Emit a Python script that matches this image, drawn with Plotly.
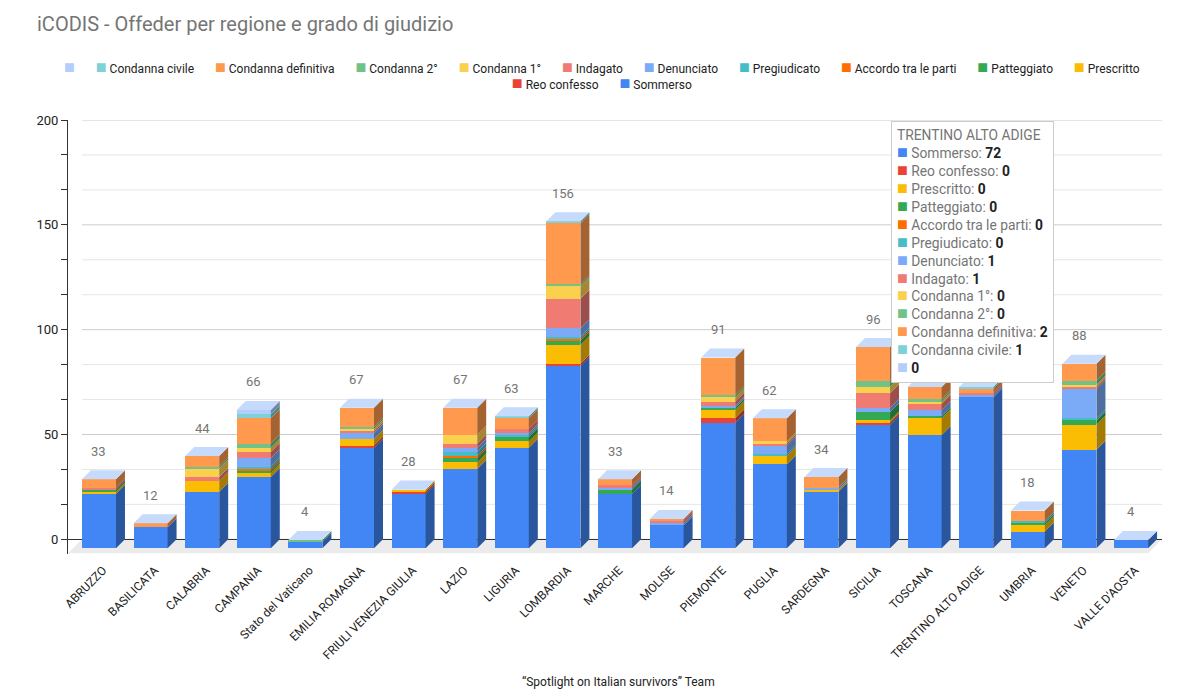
import plotly.graph_objects as go

# --- data ---
regioni = ["ABRUZZO", "BASILICATA", "CALABRIA", "CAMPANIA", "Stato del Vaticano",
           "EMILIA ROMAGNA", "FRIULI VENEZIA GIULIA", "LAZIO", "LIGURIA", "LOMBARDIA",
           "MARCHE", "MOLISE", "PIEMONTE", "PUGLIA", "SARDEGNA", "SICILIA", "TOSCANA",
           "TRENTINO ALTO ADIGE", "UMBRIA", "VENETO", "VALLE D'AOSTA"]

sommerso     = [26, 10, 27, 34, 3, 48, 26, 38, 48, 87, 26, 11, 60, 40, 27, 59, 54, 72, 8, 47, 4]
reo_confesso = [0, 0, 0, 0, 0, 1, 1, 0, 0, 1, 0, 0, 2, 0, 0, 1, 0, 0, 0, 0, 0]
prescritto   = [1, 0, 5, 2, 0, 3, 1, 3, 3, 9, 0, 0, 4, 4, 1, 1, 8, 0, 3, 12, 0]
patteggiato  = [1, 0, 0, 1, 0, 0, 0, 2, 2, 2, 2, 0, 1, 0, 0, 4, 1, 0, 1, 2, 0]
accordo      = [0, 0, 0, 1, 0, 0, 0, 1, 0, 1, 0, 0, 0, 0, 0, 0, 0, 0, 0, 0, 0]
pregiudicato = [0, 0, 0, 1, 0, 0, 0, 2, 1, 1, 0, 0, 0, 1, 0, 0, 0, 0, 1, 1, 0]
denunciato   = [0, 0, 0, 4, 0, 3, 0, 2, 1, 4, 1, 1, 1, 4, 1, 2, 3, 1, 0, 14, 0]
indagato     = [1, 0, 2, 3, 0, 1, 0, 2, 2, 14, 1, 1, 2, 1, 0, 7, 3, 1, 0, 1, 0]
condanna_1   = [0, 0, 4, 2, 0, 1, 0, 4, 0, 6, 0, 0, 2, 1, 0, 3, 1, 0, 0, 1, 0]
condanna_2   = [0, 0, 1, 2, 1, 1, 0, 0, 0, 1, 0, 0, 1, 0, 0, 3, 1, 0, 0, 2, 0]
condanna_def = [4, 2, 5, 12, 0, 9, 0, 13, 5, 29, 3, 1, 18, 11, 5, 16, 6, 2, 5, 8, 0]
condanna_civ = [0, 0, 0, 2, 0, 0, 0, 0, 1, 1, 0, 0, 0, 0, 0, 0, 0, 1, 0, 0, 0]
senza_nome   = [0, 0, 0, 2, 0, 0, 0, 0, 0, 0, 0, 0, 0, 0, 0, 0, 0, 0, 0, 0, 0]

nomi = ["Sommerso", "Reo confesso", "Prescritto", "Patteggiato", "Accordo tra le parti",
        "Pregiudicato", "Denunciato", "Indagato", "Condanna 1°", "Condanna 2°",
        "Condanna definitiva", "Condanna civile", ""]
serie = [sommerso, reo_confesso, prescritto, patteggiato, accordo, pregiudicato,
         denunciato, indagato, condanna_1, condanna_2, condanna_def, condanna_civ, senza_nome]
colori = ["#4285f4", "#ea4335", "#fbbc04", "#34a853", "#ff6d01", "#46bdc6", "#7baaf7",
          "#f07b72", "#fcd04f", "#71c287", "#ff994d", "#7ed1d7", "#b3cefb"]

tooltip_regione = "TRENTINO ALTO ADIGE"
# totals hidden under the tooltip in the original
coperti = ["TOSCANA", "TRENTINO ALTO ADIGE"]

# --- 3d look ---
W_BAR = 0.66   # front face width (category units)
DX = 0.174     # depth, x
DY = 4.3       # depth, y (value units)
FONT = "Roboto, Arial, sans-serif"


def scuro(hexcol, f=0.65):
    h = hexcol.lstrip("#")
    r, g, b = (int(h[k:k + 2], 16) for k in (0, 2, 4))
    return "rgb(%d,%d,%d)" % (r * f, g * f, b * f)


xs = list(range(len(regioni)))
totali = [sum(s[i] for s in serie) for i in xs]

fig = go.Figure()

# back-wall gridlines (start behind the floor corner like the original)
for k in range(13):
    yv = k * 50 / 3
    fig.add_shape(type="line", xref="x", yref="y", layer="below",
                  x0=-0.33, x1=20.6, y0=yv, y1=yv,
                  line=dict(color="#cccccc" if k % 3 == 0 else "#e6e6e6", width=1))

base = [-DY] * len(xs)
for nome, vals, col in zip(nomi, serie, colori):
    fig.add_trace(go.Bar(x=xs, y=vals, base=list(base), width=W_BAR,
                         marker=dict(color=col, line=dict(width=0)),
                         name=nome, showlegend=False, hoverinfo="skip"))
    px, py = [], []
    for i in xs:
        if vals[i] > 0:
            xr = i + W_BAR / 2
            b, t = base[i], base[i] + vals[i]
            px += [xr, xr + DX, xr + DX, xr, None]
            py += [b, b + DY, t + DY, t, None]
    if px:
        fig.add_trace(go.Scatter(x=px, y=py, mode="lines", fill="toself",
                                 fillcolor=scuro(col), line=dict(width=0),
                                 showlegend=False, hoverinfo="skip"))
    base = [base[i] + vals[i] for i in xs]

# top faces
tx, ty = [], []
for i in xs:
    xl, xr, T = i - W_BAR / 2, i + W_BAR / 2, base[i]
    tx += [xl, xl + DX, xr + DX, xr, None]
    ty += [T, T + DY, T + DY, T, None]
fig.add_trace(go.Scatter(x=tx, y=ty, mode="lines", fill="toself", fillcolor="#c6dafc",
                         line=dict(width=0), showlegend=False, hoverinfo="skip"))

# totals above bars
for i in xs:
    if regioni[i] in coperti:
        continue
    fig.add_annotation(x=i, y=totali[i], text=str(totali[i]), showarrow=False,
                       yshift=19, yanchor="middle",
                       font=dict(size=13, color="#757575", family=FONT))

# floor
fig.add_shape(type="path", xref="x", yref="y", layer="below",
              path="M -0.6,-6.7 L -0.33,0 L 20.6,0 L 20.33,-6.7 Z",
              fillcolor="#ebebeb", line=dict(width=0))

# legend (two centred rows, like the original)
def voce(k):
    sw = "<span style='color:%s;font-size:18px'>■</span>" % colori[k]
    return sw + ("&nbsp;" + nomi[k] if nomi[k] else "")

sep = "&nbsp;" * 7
riga1 = sep.join(voce(k) for k in range(12, 1, -1))
riga2 = sep.join(voce(k) for k in (1, 0))
fig.add_annotation(xref="paper", yref="paper", x=0.488, y=1.1037, text=riga1 + "<br>" + riga2,
                   showarrow=False, xanchor="center", yanchor="middle", align="center",
                   font=dict(size=12, color="#222222", family=FONT))

# tooltip box
j = regioni.index(tooltip_regione)
righe = [tooltip_regione]
for k in range(len(nomi)):
    sw = "<span style='color:%s;font-size:18px'>■</span>" % colori[k]
    val = "<b><span style='color:#222222'>%d</span></b>" % serie[k][j]
    righe.append(sw + " " + (nomi[k] + ": " if nomi[k] else "") + val)
fig.add_annotation(xref="paper", yref="paper", x=0.7523, y=0.997, xanchor="left",
                   yanchor="top", align="left", showarrow=False, text="<br>".join(righe),
                   bgcolor="white", bordercolor="#cccccc", borderwidth=1, borderpad=5,
                   font=dict(size=13.8, color="#757575", family=FONT))

# footer
fig.add_annotation(xref="paper", yref="paper", x=0.503, y=-0.295, showarrow=False,
                   yanchor="middle", text="“Spotlight on Italian survivors” Team",
                   font=dict(size=12, color="#222222", family=FONT))

# page has an 8px body margin: size / offsets compensate for it
fig.update_layout(
    width=1181, height=687,
    margin=dict(l=60, r=27, t=112, b=141),
    paper_bgcolor="white", plot_bgcolor="white",
    barmode="overlay", bargap=0,
    title=dict(text="iCODIS - Offeder per regione e grado di giudizio",
               x=29 / 1181, xanchor="left", xref="container",
               y=1 - 16 / 687, yanchor="middle",
               font=dict(size=20, color="#757575", family=FONT)),
    font=dict(family=FONT),
    showlegend=False,
)
fig.update_xaxes(range=[-0.6, 20.6], tickvals=[i + 0.08 for i in xs], ticktext=regioni,
                 tickangle=-45, showgrid=False, zeroline=False, showline=False,
                 ticks="", ticklabelstandoff=6,
                 tickfont=dict(size=12, color="#222222", family=FONT))
fig.update_yaxes(range=[-7, 200], tick0=0, dtick=50, showgrid=False,
                 zeroline=True, zerolinecolor="#333333", zerolinewidth=1,
                 showline=True, linecolor="#333333", linewidth=1,
                 ticks="outside", ticklen=6, tickcolor="#333333",
                 minor=dict(dtick=50 / 3, tick0=0, showgrid=False,
                            ticks="outside", ticklen=6, tickcolor="#333333"),
                 tickfont=dict(size=13, color="#222222", family=FONT))

fig.write_html("out.html")
